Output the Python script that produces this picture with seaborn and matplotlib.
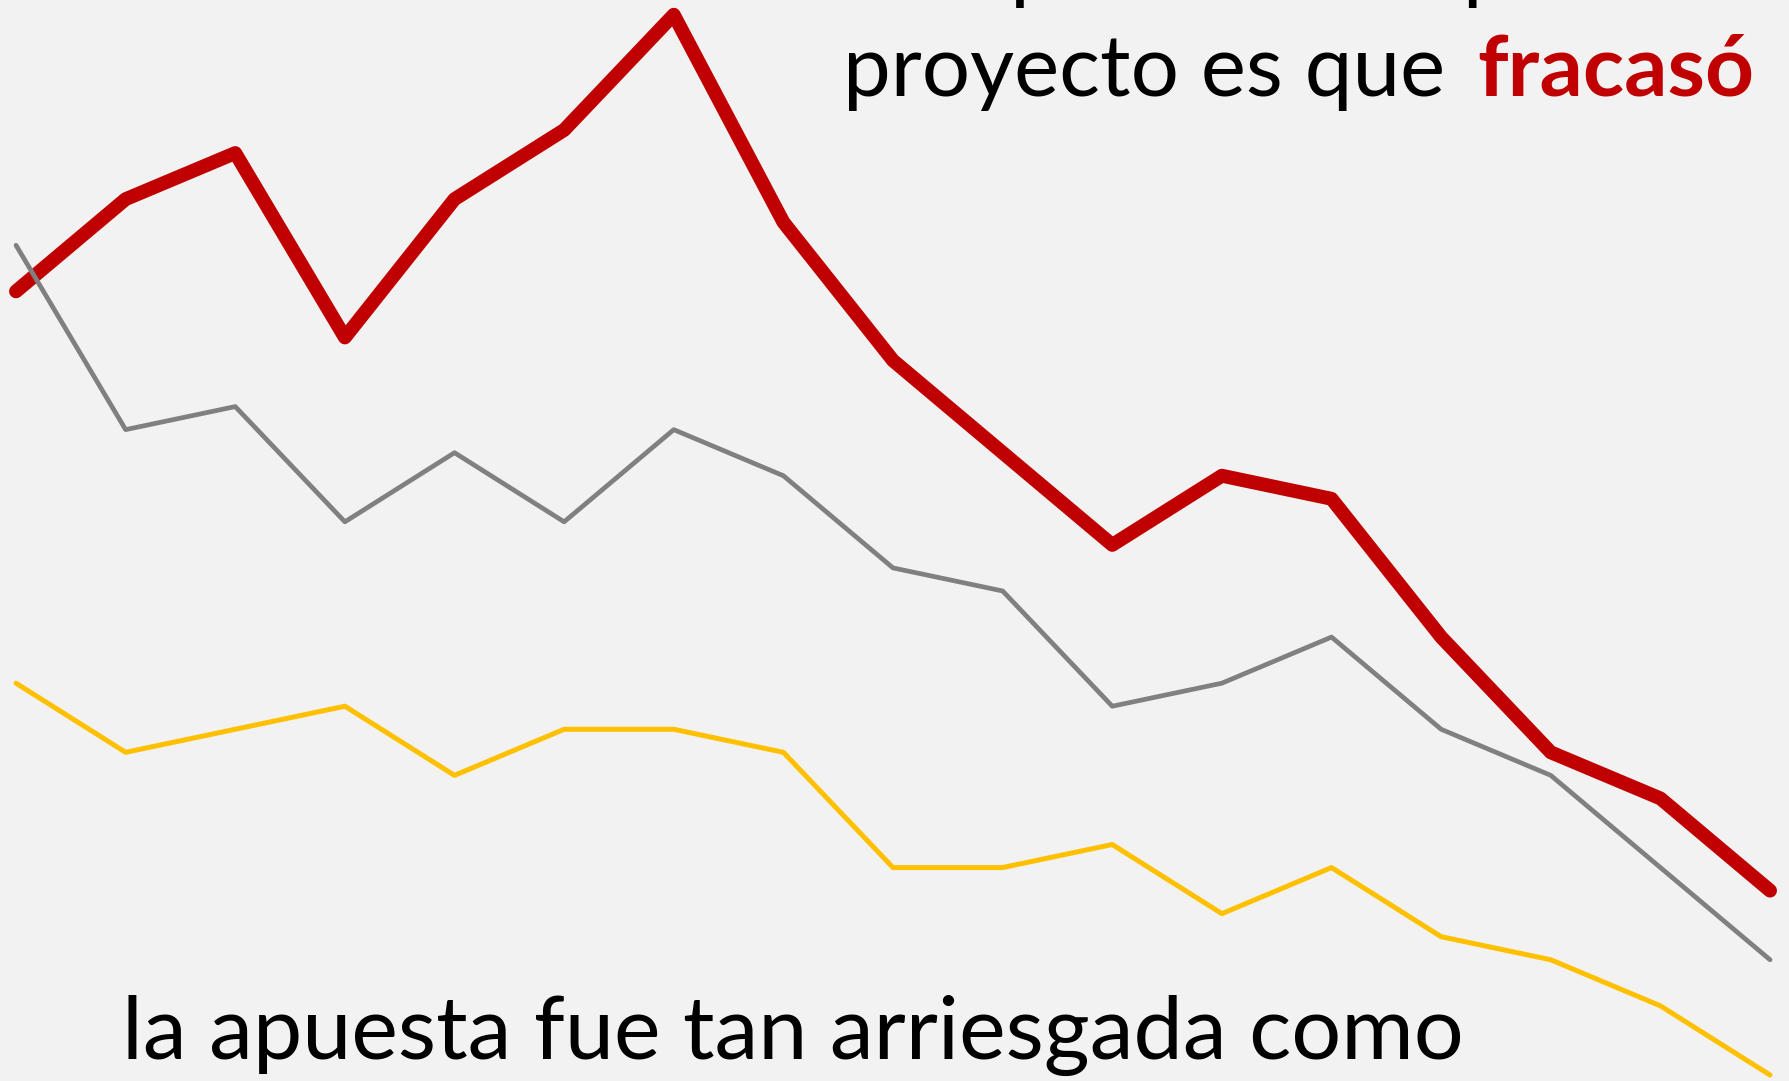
import matplotlib
matplotlib.use("Agg")
import matplotlib.pyplot as plt
import seaborn as sns
import pandas as pd

# Series values (one point per period)
periods = list(range(17))
fracaso = [48, 52, 54, 46, 52, 55, 60, 51, 45, 41, 37, 40, 39, 33, 28, 26, 22]
riesgo = [50, 42, 43, 38, 41, 38, 42, 40, 36, 35, 30, 31, 33, 29, 27, 23, 19]
apuesta = [31, 28, 29, 30, 27, 29, 29, 28, 23, 23, 24, 21, 23, 20, 19, 17, 14]

line_top = "Lo que todos supimos del"
line_mid = "proyecto es que"
line_hl = "fracasó"
line_bottom = "la apuesta fue tan arriesgada como"

BG = "#F2F2F2"
RED = "#C00000"
GRAY = "#808080"
YELLOW = "#FFC000"
FONT = "Lato"

sns.set_theme(style="white")
plt.rcParams["font.family"] = [FONT, "DejaVu Sans"]

W, H, DPI = 1789, 1081, 100
fig = plt.figure(figsize=(W / DPI, H / DPI), dpi=DPI, facecolor=BG)
ax = fig.add_axes([0, 0, 1, 1], facecolor=BG)

df = pd.DataFrame({"periodo": periods, "fracaso": fracaso,
                   "riesgo": riesgo, "apuesta": apuesta})

styles = [("fracaso", RED, 10.0), ("riesgo", GRAY, 3.4), ("apuesta", YELLOW, 3.6)]
for col, color, lw in styles:
    sns.lineplot(data=df, x="periodo", y=col, ax=ax, color=color, linewidth=lw,
                 solid_capstyle="round", solid_joinstyle="round", legend=False)

ax.set_xlim(-0.146, 16.173)
ax.set_ylim(13.74, 60.64)
ax.set_axis_off()

renderer = fig.canvas.get_renderer()


def width_px(s, size, **kw):
    t = fig.text(0, 0, s, fontsize=size, family=FONT, **kw)
    w = t.get_window_extent(renderer=renderer).width
    t.remove()
    return w


# size the captions so the lines span their intended widths
base = 60
fs_bottom = base * 1342 / width_px(line_bottom, base)
gap = 32
w_top = width_px(line_mid, base) + width_px(line_hl, base, fontweight="bold")
fs_top = base * (1755 - 843 - gap) / w_top

# first caption line runs off the top edge; its "q" stem sits near x=1022
q_end = width_px(line_top[:line_top.index("q") + 1], fs_top)
x_top = 1022 - (q_end - 0.09 * fs_top * DPI / 72)
fig.text(x_top / W, (H + 7) / H, line_top, fontsize=fs_top, family=FONT,
         color="black", ha="left", va="baseline")
t_mid = fig.text(843 / W, (H - 96) / H, line_mid, fontsize=fs_top, family=FONT,
                 color="black", ha="left", va="baseline")
bb = t_mid.get_window_extent(renderer=renderer)
fig.text((bb.x1 + gap) / W, (H - 96) / H, line_hl, fontsize=fs_top, family=FONT,
         fontweight="bold", color=RED, ha="left", va="baseline")

fig.text(122 / W, (H - 1059) / H, line_bottom, fontsize=fs_bottom, family=FONT,
         color="black", ha="left", va="baseline")

fig.savefig("out.png", dpi=DPI, facecolor=BG)
